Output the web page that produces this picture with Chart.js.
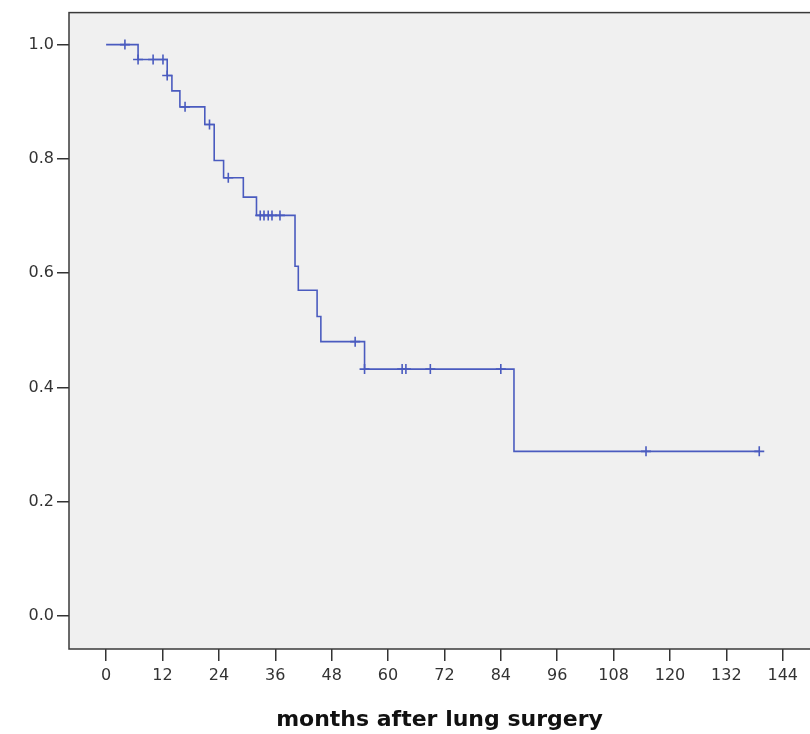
<!DOCTYPE html>
<html>
<head>
<meta charset="utf-8">
<script src="https://cdn.jsdelivr.net/npm/chart.js@4.4.1/dist/chart.umd.min.js"></script>
<style>
  html, body { margin: 0; padding: 0; background: #fff; overflow: hidden; }
</style>
</head>
<body>
<canvas id="kmChart" width="810" height="734"></canvas>
<script>
// ── Kaplan-Meier data ─────────────────────────────────────────────────────
const eventTimes = [0, 6.8, 13, 14, 15.7, 21, 23, 25, 29.2, 32, 40.2, 40.9, 44.9, 45.7, 55, 86.8, 139];
const survival   = [1.0, 0.974, 0.946, 0.919, 0.891, 0.860, 0.797, 0.767, 0.733, 0.701, 0.612, 0.570, 0.524, 0.480, 0.432, 0.288, 0.288];
const censorTimes = [4, 6.8, 10, 12.1, 13, 16.8, 22, 26, 32.8, 33.6, 34.5, 35.3, 37, 53, 55, 63, 63.8, 69, 84, 114.9, 139];

const xTicks = [0, 12, 24, 36, 48, 60, 72, 84, 96, 108, 120, 132, 144];
const yTicks = [0, 0.2, 0.4, 0.6, 0.8, 1.0];

const lineColor = '#4a5bbf';

function survivalAt(t) {
    let s = survival[0];
    for (let i = 0; i < eventTimes.length; i++) {
        if (eventTimes[i] <= t) s = survival[i];
    }
    return s;
}

const curvePoints = eventTimes.map((t, i) => ({ x: t, y: survival[i] }));
const censorPoints = censorTimes.map(t => ({ x: t, y: survivalAt(t) }));

// plot background + frame
const framePlugin = {
    id: 'frame',
    beforeDraw(chart) {
        const { ctx, chartArea: a } = chart;
        ctx.save();
        ctx.fillStyle = '#f0f0f0';
        ctx.fillRect(a.left, a.top, a.right - a.left, a.bottom - a.top);
        ctx.restore();
    },
    afterDraw(chart) {
        const { ctx, chartArea: a } = chart;
        ctx.save();
        ctx.strokeStyle = '#3a3a3a';
        ctx.lineWidth = 1.5;
        ctx.strokeRect(a.left, a.top, a.right - a.left + 2, a.bottom - a.top);
        ctx.restore();
    }
};

new Chart(document.getElementById('kmChart'), {
    type: 'scatter',
    data: {
        datasets: [
            {
                type: 'line',
                data: curvePoints,
                borderColor: lineColor,
                borderWidth: 1.6,
                stepped: 'before',
                pointRadius: 0,
                fill: false,
            },
            {
                data: censorPoints,
                pointStyle: 'cross',
                pointRadius: 5,
                borderColor: lineColor,
                borderWidth: 1.6,
                backgroundColor: lineColor,
            }
        ]
    },
    options: {
        responsive: false,
        animation: false,
        layout: { autoPadding: false, padding: { top: 12, right: 0, bottom: 0, left: 0 } },
        plugins: { legend: { display: false }, tooltip: { enabled: false } },
        scales: {
            x: {
                type: 'linear',
                min: -7.9,
                max: 149.8,
                afterBuildTicks: s => { s.ticks = xTicks.map(v => ({ value: v })); },
                afterFit: s => { s.height = 85; s.paddingLeft = 0; s.paddingRight = 0; },
                grid: { drawOnChartArea: false, drawTicks: true, tickLength: 12, color: '#333', lineWidth: 1.5 },
                border: { display: false },
                ticks: { color: '#333', padding: 5, font: { family: 'DejaVu Sans', size: 16 }, maxRotation: 0 },
                title: {
                    display: true,
                    text: 'months after lung surgery',
                    color: '#111',
                    font: { family: 'DejaVu Sans', size: 22, weight: 'bold' },
                    padding: { top: 0, bottom: 1 }
                }
            },
            y: {
                min: -0.058,
                max: 1.056,
                afterBuildTicks: s => { s.ticks = yTicks.map(v => ({ value: v })); },
                afterFit: s => { s.width = 69; },
                grid: { drawOnChartArea: false, drawTicks: true, tickLength: 12, color: '#333', lineWidth: 1.5 },
                border: { display: false },
                ticks: {
                    color: '#333',
                    padding: 3,
                    font: { family: 'DejaVu Sans', size: 16 },
                    callback: v => v.toFixed(1)
                }
            }
        }
    },
    plugins: [framePlugin]
});
</script>
</body>
</html>
